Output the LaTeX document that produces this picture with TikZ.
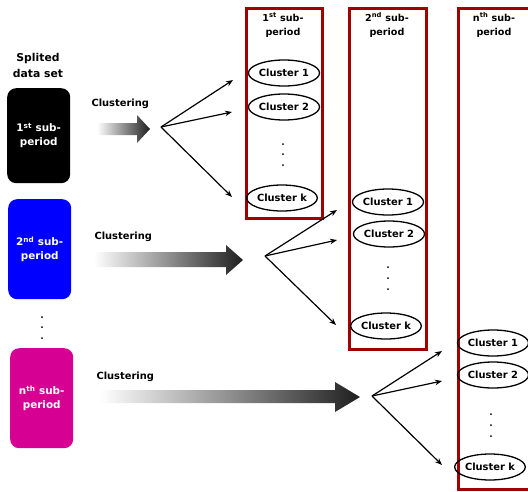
\documentclass[tikz,border=0pt]{standalone}
\usepackage{fontspec}
\setmainfont{DejaVu Sans}
\usetikzlibrary{shapes.geometric,arrows.meta}
\definecolor{framered}{RGB}{160,0,0}
\definecolor{boxblue}{RGB}{0,0,255}
\definecolor{boxmag}{RGB}{214,0,147}
\tikzset{
  cluster/.style={ellipse, draw, line width=1.3pt, minimum width=65pt, minimum height=26pt, inner sep=0pt,
    font=\bfseries\fontsize{9.9}{11}\selectfont},
  frame/.style={draw=framered, line width=3pt, anchor=north west, inner sep=0pt},
  heading/.style={align=center, font=\bfseries\fontsize{9.6}{14}\selectfont},
  periodbox/.style={rounded corners=9pt, anchor=north west, minimum width=63pt, minimum height=96pt,
    text=white, align=center, font=\bfseries\fontsize{10.4}{14}\selectfont},
  clab/.style={font=\bfseries\fontsize{9.9}{11}\selectfont, anchor=west},
  fan/.style={-{Stealth[length=7pt,width=5.5pt]}, line width=1.2pt},
  vdot/.style={circle, fill=black, inner sep=0pt, minimum size=2pt},
  grad/.style={left color=white, right color=black!88}
}
\begin{document}
\begin{tikzpicture}[x=1pt,y=-1pt]
\useasboundingbox (0,0) rectangle (528,491);
\begin{scope}
\clip (0,0) rectangle (528,491);
% left column
\node[align=center, font=\bfseries\fontsize{10.8}{16}\selectfont] (title) at (38,65) {Splited\\data set};
\node[periodbox, fill=black, minimum height=95pt] (p1) at (7,88) {1\textsuperscript{st} sub-\\period};
\node[periodbox, fill=boxblue, minimum height=100pt] (p2) at (8,199) {2\textsuperscript{nd} sub-\\period};
\node[vdot] (ld1) at (42,317) {};
\node[vdot] (ld2) at (42,327) {};
\node[vdot] (ld3) at (42,338) {};
\node[periodbox, fill=boxmag, minimum height=100pt] (p3) at (10,348) {n\textsuperscript{th} sub-\\period};

% clustering arrows
\node[clab] (c1) at (88,104) {Clustering};
\node[clab] (c2) at (91,237) {Clustering};
\node[clab] (c3) at (93,377) {Clustering};
\shade[grad] (97,123) -- (137,123) -- (137,115) -- (150,129) -- (137,143) -- (137,135) -- (97,135) -- cycle;
\shade[grad] (94,252) -- (226,252) -- (226,245) -- (243,260) -- (226,275) -- (226,267) -- (94,267) -- cycle;
\shade[grad] (100,390) -- (335,390) -- (335,382) -- (360,397) -- (335,412) -- (335,403) -- (100,403) -- cycle;

% frames
\node[frame, minimum width=76pt, minimum height=210pt] (f1) at (244.5,7) {};
\node[frame, minimum width=77pt, minimum height=341pt] (f2) at (348,7) {};
\node[frame, minimum width=90pt, minimum height=481pt] (f3) at (457,7) {};
\node[heading] (h1) at (283,25) {1\textsuperscript{st} sub-\\period};
\node[heading] (h2) at (387,25) {2\textsuperscript{nd} sub-\\period};
\node[heading] (h3) at (494,25) {n\textsuperscript{th} sub-\\period};

% clusters frame 1
\node[cluster] (a1) at (284,73) {Cluster 1};
\node[cluster] (a2) at (284,107) {Cluster 2};
\node[vdot] (ad1) at (283,144) {};
\node[vdot] (ad2) at (283,154) {};
\node[vdot] (ad3) at (283,165) {};
\node[cluster] (ak) at (282,198) {Cluster k};
% clusters frame 2
\node[cluster] (b1) at (388,202) {Cluster 1};
\node[cluster] (b2) at (389,234) {Cluster 2};
\node[vdot] (bd1) at (388,267) {};
\node[vdot] (bd2) at (388,278) {};
\node[vdot] (bd3) at (388,289) {};
\node[cluster] (bk) at (386,326) {Cluster k};
% clusters frame 3
\node[cluster] (d1) at (493,343) {Cluster 1};
\node[cluster] (d2) at (493,375) {Cluster 2};
\node[vdot] (dd1) at (491,414) {};
\node[vdot] (dd2) at (491,425) {};
\node[vdot] (dd3) at (491,436) {};
\node[cluster] (dk) at (490,467) {Cluster k};

% fans
\coordinate (o1) at (161,127);
\coordinate (e11) at (233,80);
\coordinate (e12) at (232,112);
\coordinate (e13) at (232,197);
\draw[fan] (o1) -- (e11);
\draw[fan] (o1) -- (e12);
\draw[fan] (o1) -- (e13);
\coordinate (o2) at (265,256);
\coordinate (e21) at (337,210);
\coordinate (e22) at (337,240);
\coordinate (e23) at (336,325);
\draw[fan] (o2) -- (e21);
\draw[fan] (o2) -- (e22);
\draw[fan] (o2) -- (e23);
\coordinate (o3) at (372,396);
\coordinate (e31) at (442,351);
\coordinate (e32) at (442,381);
\coordinate (e33) at (442,465);
\draw[fan] (o3) -- (e31);
\draw[fan] (o3) -- (e32);
\draw[fan] (o3) -- (e33);
\end{scope}
\end{tikzpicture}
\end{document}
